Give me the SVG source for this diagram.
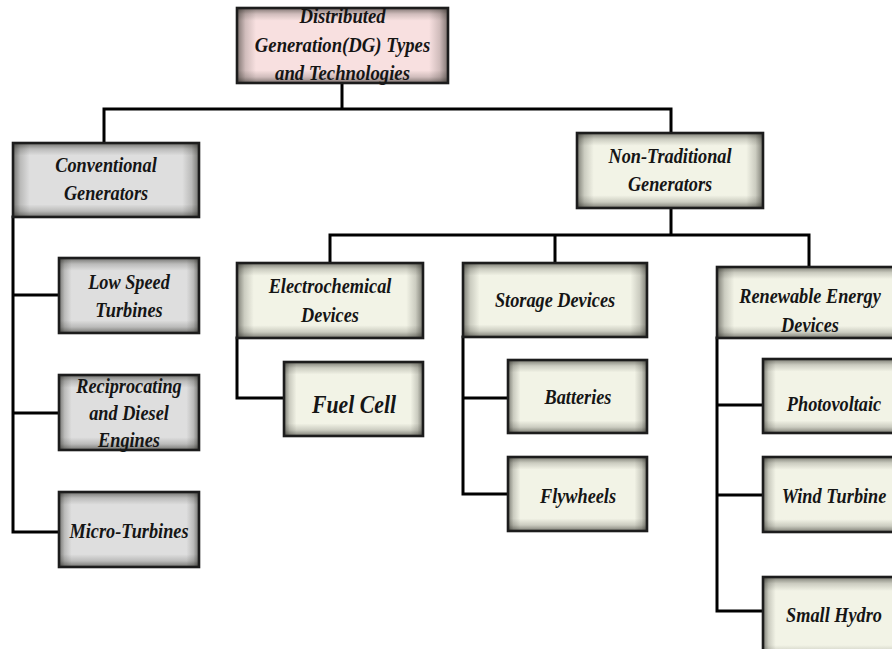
<svg xmlns="http://www.w3.org/2000/svg" width="892" height="649" viewBox="0 0 892 649">
  <style>
    .frame { fill: none; stroke: #1c1c1c; stroke-width: 2.6; }
    .pink { fill: #f8e0e0; }
    .grey { fill: #dedede; }
    .cream { fill: #f2f3e6; }
    .hs { fill: url(#hs); }
    .vs { fill: url(#vs); }
    .wire { fill: none; stroke: #000; stroke-width: 3; stroke-linecap: square; }
    text { font-family: "Liberation Serif", "Times New Roman", serif; font-weight: bold; font-style: italic; font-size: 21px; fill: #151515; text-anchor: middle; }
    .big { font-size: 25px; }
  </style>
  <defs>
    <!-- edge shading laid over each box: left/right and top/bottom bands -->
    <linearGradient id="hs" x1="0" y1="0" x2="1" y2="0">
      <stop offset="0" stop-color="#1a1a14" stop-opacity="0.55"/>
      <stop offset="0.04" stop-color="#1a1a14" stop-opacity="0.18"/>
      <stop offset="0.09" stop-color="#1a1a14" stop-opacity="0"/>
      <stop offset="0.91" stop-color="#1a1a14" stop-opacity="0"/>
      <stop offset="0.96" stop-color="#1a1a14" stop-opacity="0.18"/>
      <stop offset="1" stop-color="#1a1a14" stop-opacity="0.55"/>
    </linearGradient>
    <linearGradient id="vs" x1="0" y1="0" x2="0" y2="1">
      <stop offset="0" stop-color="#1a1a14" stop-opacity="0.55"/>
      <stop offset="0.08" stop-color="#1a1a14" stop-opacity="0.18"/>
      <stop offset="0.17" stop-color="#1a1a14" stop-opacity="0"/>
      <stop offset="0.83" stop-color="#1a1a14" stop-opacity="0"/>
      <stop offset="0.92" stop-color="#1a1a14" stop-opacity="0.18"/>
      <stop offset="1" stop-color="#1a1a14" stop-opacity="0.55"/>
    </linearGradient>
  </defs>
  <rect width="892" height="649" fill="#fff"/>

  <g id="connectors">
    <path class="wire" d="M342 83V109M104 109H671M104 109V143M671 109V133"/>
    <path class="wire" d="M13 217V532M13 295H59M13 413H59M13 532H59"/>
    <path class="wire" d="M671 208V235M330 235H809M330 235V263M555 235V263M809 235V267"/>
    <path class="wire" d="M237 338V398H284"/>
    <path class="wire" d="M463 337V494M463 398H508M463 494H508"/>
    <path class="wire" d="M717 338V611M717 405H763M717 495H763M717 611H763"/>
  </g>

  <g id="dg-root">
    <rect class="pink" x="237" y="8" width="211" height="75"/>
    <rect class="hs" x="237" y="8" width="211" height="75"/>
    <rect class="vs" x="237" y="8" width="211" height="75"/>
    <rect class="frame" x="237" y="8" width="211" height="75"/>
    <g transform="translate(342.5 0) scale(0.87 1)">
      <text x="0" y="23" style="font-size:21.5px">Distributed</text>
      <text x="0" y="52" style="font-size:21.5px">Generation(DG) Types</text>
      <text x="0" y="80" style="font-size:21.5px">and Technologies</text>
    </g>
  </g>

  <g id="conventional">
    <rect class="grey" x="13" y="143" width="186" height="74"/>
    <rect class="hs" x="13" y="143" width="186" height="74"/>
    <rect class="vs" x="13" y="143" width="186" height="74"/>
    <rect class="frame" x="13" y="143" width="186" height="74"/>
    <g transform="translate(106 0) scale(0.87 1)">
      <text x="0" y="172">Conventional</text>
      <text x="0" y="200">Generators</text>
    </g>
  </g>

  <g id="low-speed">
    <rect class="grey" x="59" y="258" width="140" height="75"/>
    <rect class="hs" x="59" y="258" width="140" height="75"/>
    <rect class="vs" x="59" y="258" width="140" height="75"/>
    <rect class="frame" x="59" y="258" width="140" height="75"/>
    <g transform="translate(129 0) scale(0.87 1)">
      <text x="0" y="289">Low Speed</text>
      <text x="0" y="317">Turbines</text>
    </g>
  </g>

  <g id="reciprocating">
    <rect class="grey" x="59" y="375" width="140" height="75"/>
    <rect class="hs" x="59" y="375" width="140" height="75"/>
    <rect class="vs" x="59" y="375" width="140" height="75"/>
    <rect class="frame" x="59" y="375" width="140" height="75"/>
    <g transform="translate(129 0) scale(0.87 1)">
      <text x="0" y="393">Reciprocating</text>
      <text x="0" y="420">and Diesel</text>
      <text x="0" y="447">Engines</text>
    </g>
  </g>

  <g id="micro-turbines">
    <rect class="grey" x="59" y="492" width="140" height="75"/>
    <rect class="hs" x="59" y="492" width="140" height="75"/>
    <rect class="vs" x="59" y="492" width="140" height="75"/>
    <rect class="frame" x="59" y="492" width="140" height="75"/>
    <g transform="translate(129 0) scale(0.87 1)">
      <text x="0" y="538">Micro-Turbines</text>
    </g>
  </g>

  <g id="non-traditional">
    <rect class="cream" x="577" y="133" width="186" height="75"/>
    <rect class="hs" x="577" y="133" width="186" height="75"/>
    <rect class="vs" x="577" y="133" width="186" height="75"/>
    <rect class="frame" x="577" y="133" width="186" height="75"/>
    <g transform="translate(670 0) scale(0.87 1)">
      <text x="0" y="163">Non-Traditional</text>
      <text x="0" y="191">Generators</text>
    </g>
  </g>

  <g id="electrochemical">
    <rect class="cream" x="237" y="263" width="186" height="75"/>
    <rect class="hs" x="237" y="263" width="186" height="75"/>
    <rect class="vs" x="237" y="263" width="186" height="75"/>
    <rect class="frame" x="237" y="263" width="186" height="75"/>
    <g transform="translate(330 0) scale(0.87 1)">
      <text x="0" y="293">Electrochemical</text>
      <text x="0" y="322">Devices</text>
    </g>
  </g>

  <g id="fuel-cell">
    <rect class="cream" x="284" y="362" width="139" height="74"/>
    <rect class="hs" x="284" y="362" width="139" height="74"/>
    <rect class="vs" x="284" y="362" width="139" height="74"/>
    <rect class="frame" x="284" y="362" width="139" height="74"/>
    <g transform="translate(354 0) scale(0.87 1)">
      <text class="big" x="0" y="413">Fuel Cell</text>
    </g>
  </g>

  <g id="storage">
    <rect class="cream" x="463" y="263" width="184" height="74"/>
    <rect class="hs" x="463" y="263" width="184" height="74"/>
    <rect class="vs" x="463" y="263" width="184" height="74"/>
    <rect class="frame" x="463" y="263" width="184" height="74"/>
    <g transform="translate(555 0) scale(0.87 1)">
      <text x="0" y="307">Storage Devices</text>
    </g>
  </g>

  <g id="batteries">
    <rect class="cream" x="508" y="360" width="139" height="73"/>
    <rect class="hs" x="508" y="360" width="139" height="73"/>
    <rect class="vs" x="508" y="360" width="139" height="73"/>
    <rect class="frame" x="508" y="360" width="139" height="73"/>
    <g transform="translate(578 0) scale(0.87 1)">
      <text x="0" y="404">Batteries</text>
    </g>
  </g>

  <g id="flywheels">
    <rect class="cream" x="508" y="457" width="139" height="74"/>
    <rect class="hs" x="508" y="457" width="139" height="74"/>
    <rect class="vs" x="508" y="457" width="139" height="74"/>
    <rect class="frame" x="508" y="457" width="139" height="74"/>
    <g transform="translate(578 0) scale(0.87 1)">
      <text x="0" y="503">Flywheels</text>
    </g>
  </g>

  <g id="renewable">
    <rect class="cream" x="717" y="267" width="192" height="71"/>
    <rect class="hs" x="717" y="267" width="192" height="71"/>
    <rect class="vs" x="717" y="267" width="192" height="71"/>
    <rect class="frame" x="717" y="267" width="192" height="71"/>
    <g transform="translate(810 0) scale(0.87 1)">
      <text x="0" y="303">Renewable Energy</text>
      <text x="0" y="332">Devices</text>
    </g>
  </g>

  <g id="photovoltaic">
    <rect class="cream" x="763" y="359" width="142" height="74"/>
    <rect class="hs" x="763" y="359" width="142" height="74"/>
    <rect class="vs" x="763" y="359" width="142" height="74"/>
    <rect class="frame" x="763" y="359" width="142" height="74"/>
    <g transform="translate(834 0) scale(0.87 1)">
      <text x="0" y="411">Photovoltaic</text>
    </g>
  </g>

  <g id="wind-turbine">
    <rect class="cream" x="763" y="457" width="142" height="75"/>
    <rect class="hs" x="763" y="457" width="142" height="75"/>
    <rect class="vs" x="763" y="457" width="142" height="75"/>
    <rect class="frame" x="763" y="457" width="142" height="75"/>
    <g transform="translate(834 0) scale(0.87 1)">
      <text x="0" y="503">Wind Turbine</text>
    </g>
  </g>

  <g id="small-hydro">
    <rect class="cream" x="763" y="577" width="142" height="82"/>
    <rect class="hs" x="763" y="577" width="142" height="82"/>
    <rect class="vs" x="763" y="577" width="142" height="82"/>
    <rect class="frame" x="763" y="577" width="142" height="82"/>
    <g transform="translate(834 0) scale(0.87 1)">
      <text x="0" y="622">Small Hydro</text>
    </g>
  </g>
</svg>
